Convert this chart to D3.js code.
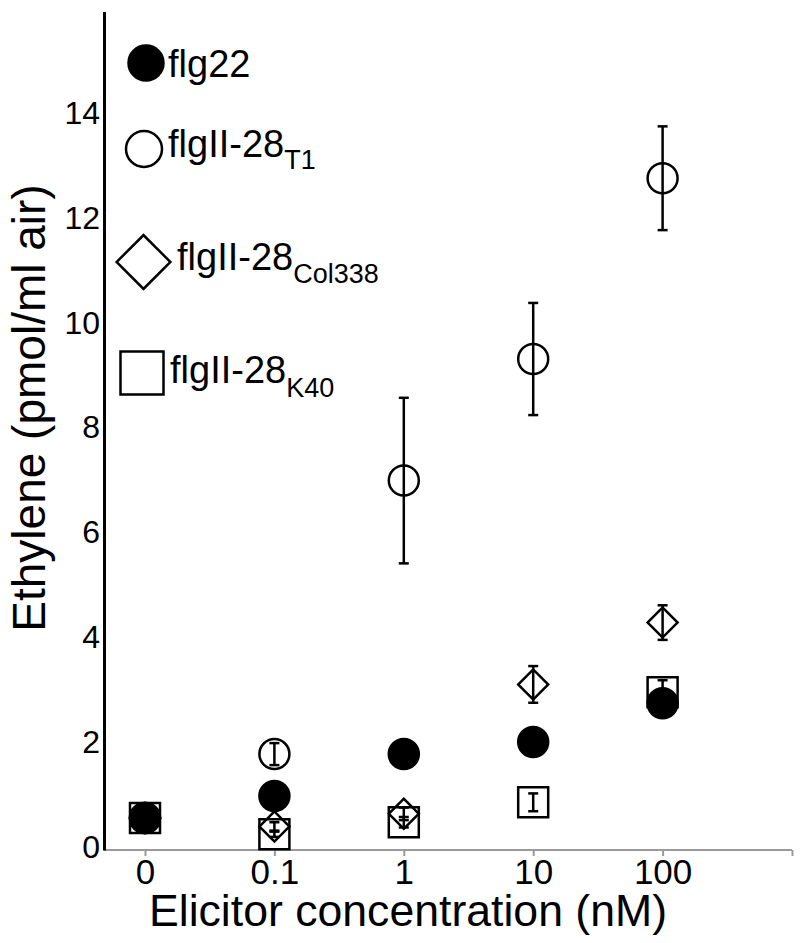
<!DOCTYPE html>
<html>
<head>
<meta charset="utf-8">
<script src="https://cdn.jsdelivr.net/npm/d3@7"></script>
<style>
  body { margin: 0; background: #fff; }
  svg { display: block; font-family: "Liberation Sans", Arial, Helvetica, sans-serif; }
</style>
</head>
<body>
<div class="chart"></div>
<script>
// concentrations on the x axis (an empty end tick is added below)
var concLabels = ["0", "0.1", "1", "10", "100"];
var yTicks = [0, 2, 4, 6, 8, 10, 12, 14];

// ethylene means and error (pmol/ml air)
var flg22 = [0.61, 1.03, 1.83, 2.06, 2.80];
var t1 = [0.61, 1.83, 7.05, 9.37, 12.82];
var t1Err = [0, 0.21, 1.58, 1.07, 0.99];
var col338 = [0.61, 0.45, 0.69, 3.16, 4.34];
var col338Err = [0, 0.08, 0.12, 0.35, 0.33];
var k40 = [0.61, 0.30, 0.53, 0.91, 3.01];
var k40Err = [0, 0.05, 0.10, 0.17, 0.23];

var svgWidth = 800;
var svgHeight = 943;

var svg = d3.select(".chart")
  .append("svg")
  .attr("width", svgWidth)
  .attr("height", svgHeight);

var axisX = 104, axisY = 850;

var xScale = d3.scalePoint()
  .domain(concLabels.concat([""]))
  .range([145, 792]);

var yScale = d3.scaleLinear()
  .domain([0, 16])
  .range([axisY, axisY - 16 * 52.4]);

// x axis (grey)
var xAxis = svg.append("g")
  .attr("transform", `translate(0,${axisY})`)
  .call(d3.axisBottom(xScale).tickSize(6).tickSizeOuter(0));
xAxis.select(".domain").remove();
xAxis.selectAll(".tick line").attr("stroke", "#9a9a9a").attr("stroke-width", 2);
xAxis.selectAll(".tick text")
  .attr("y", 34)
  .attr("dy", 0)
  .attr("fill", "#000")
  .style("font-size", "35px");
xAxis.append("line")
  .attr("x1", axisX).attr("x2", xScale(""))
  .attr("stroke", "#9a9a9a").attr("stroke-width", 2);

// y axis (black, no ticks)
var yAxis = svg.append("g")
  .attr("transform", `translate(${axisX},0)`)
  .call(d3.axisLeft(yScale).tickValues(yTicks).tickSize(0).tickSizeOuter(0).tickPadding(4));
yAxis.select(".domain").attr("stroke", "#000").attr("stroke-width", 3);
yAxis.selectAll(".tick text")
  .attr("dy", "0.22em")
  .attr("fill", "#000")
  .style("font-size", "32px");

// axis titles
svg.append("text")
  .attr("x", 408)
  .attr("y", 926)
  .attr("text-anchor", "middle")
  .style("font-size", "44.6px")
  .text("Elicitor concentration (nM)");

svg.append("text")
  .attr("transform", "translate(45,408) rotate(-90)")
  .attr("text-anchor", "middle")
  .style("font-size", "46px")
  .text("Ethylene (pmol/ml air)");

// series drawing
function makeRows(vals, errs) {
  return concLabels.map(function(c, i) {
    return { c: c, v: vals[i], e: errs ? errs[i] : 0 };
  });
}

function drawErr(rows) {
  var g = svg.append("g").attr("stroke", "#000").attr("stroke-width", 2.5);
  rows.filter(d => d.e > 0).forEach(function(d) {
    var x = xScale(d.c);
    var top = yScale(d.v + d.e), bot = yScale(d.v - d.e);
    g.append("line").attr("x1", x).attr("x2", x).attr("y1", top).attr("y2", bot);
    g.append("line").attr("x1", x - 5).attr("x2", x + 5).attr("y1", top).attr("y2", top);
    g.append("line").attr("x1", x - 5).attr("x2", x + 5).attr("y1", bot).attr("y2", bot);
  });
}

function drawMarks(rows, type, size, rot, filled) {
  svg.append("g").selectAll("path")
    .data(rows)
    .enter()
    .append("path")
    .attr("d", d3.symbol().type(type).size(size))
    .attr("transform", d => `translate(${xScale(d.c)},${yScale(d.v)}) rotate(${rot})`)
    .attr("fill", filled ? "#000" : "none")
    .attr("stroke", "#000")
    .attr("stroke-width", 2.5);
}

var k40Rows = makeRows(k40, k40Err);
drawMarks(k40Rows, d3.symbolSquare, 900, 0, false);
drawErr(k40Rows);

var colRows = makeRows(col338, col338Err);
drawMarks(colRows, d3.symbolSquare, 450, 45, false);
drawErr(colRows);

var t1Rows = makeRows(t1, t1Err);
drawMarks(t1Rows, d3.symbolCircle, Math.PI * 15 * 15, 0, false);
drawErr(t1Rows);

drawMarks(makeRows(flg22), d3.symbolCircle, Math.PI * 15 * 15, 0, true);

// legend
var legend = [
  { name: "flg22", sub: "", type: d3.symbolCircle, size: Math.PI * 17.5 * 17.5, rot: 0, fill: true,
    mx: 146, my: 63, tx: 168, ty: 77, sy: 0 },
  { name: "flgII-28", sub: "T1", type: d3.symbolCircle, size: Math.PI * 18 * 18, rot: 0, fill: false,
    mx: 144, my: 149, tx: 168, ty: 157, sy: 12 },
  { name: "flgII-28", sub: "Col338", type: d3.symbolSquare, size: 38 * 38, rot: 45, fill: false,
    mx: 143.5, my: 262, tx: 177, ty: 270, sy: 13 },
  { name: "flgII-28", sub: "K40", type: d3.symbolSquare, size: 43 * 43, rot: 0, fill: false,
    mx: 142, my: 373, tx: 170, ty: 383, sy: 14 }
];

legend.forEach(function(l) {
  svg.append("path")
    .attr("d", d3.symbol().type(l.type).size(l.size))
    .attr("transform", `translate(${l.mx},${l.my}) rotate(${l.rot})`)
    .attr("fill", l.fill ? "#000" : "none")
    .attr("stroke", "#000")
    .attr("stroke-width", 2.5);
  var t = svg.append("text")
    .attr("x", l.tx)
    .attr("y", l.ty)
    .style("font-size", "38px")
    .text(l.name);
  if (l.sub) {
    t.append("tspan")
      .attr("dy", l.sy)
      .style("font-size", "27px")
      .text(l.sub);
  }
});
</script>
</body>
</html>
